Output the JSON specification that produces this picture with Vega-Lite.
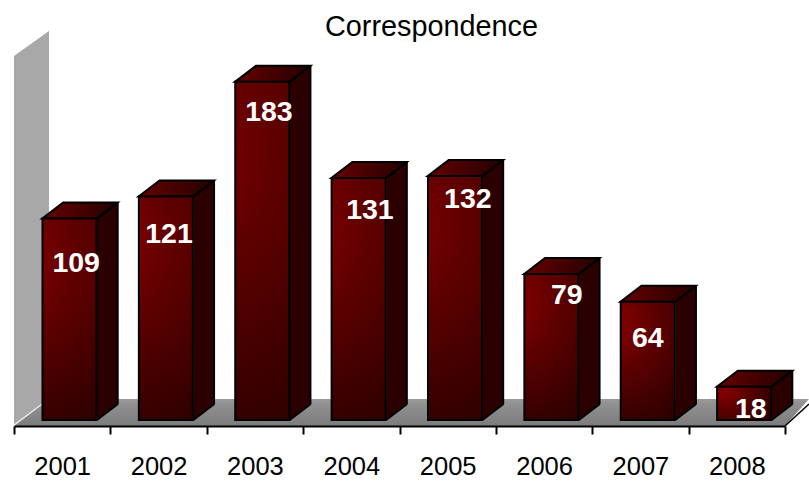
{
"$schema":"https://vega.github.io/schema/vega-lite/v6.json",
"width":771,"height":370,
"autosize":{"type":"none"},
"padding":{"left":14,"top":56,"right":24,"bottom":57},
"background":"white",
"config":{"view":{"stroke":null},"font":"Liberation Sans"},
"title":{"text":"Correspondence","font":"Liberation Sans","fontWeight":"normal","fontSize":28.8,"color":"#000000","anchor":"middle","dx":32,"offset":-11},
"data":{"values":[
{"year":"2001","value":109},{"year":"2002","value":121},{"year":"2003","value":183},{"year":"2004","value":131},
{"year":"2005","value":132},{"year":"2006","value":79},{"year":"2007","value":64},{"year":"2008","value":18}]},
"encoding":{
"x":{"field":"year","type":"ordinal","title":null,"scale":{"paddingInner":0,"paddingOuter":0},
"axis":{"tickBand":"extent","labelAngle":0,"labelFont":"Liberation Sans","labelFontSize":25.5,"labelColor":"#000","labelPadding":20,"tickSize":8,"tickWidth":2,"tickColor":"#000","domainColor":"#000","domainWidth":2,"grid":false,"zindex":1}},
"y":{"field":"value","type":"quantitative","stack":null,"axis":null,"scale":{"domain":[-3.25,197],"zero":false,"nice":false}}
},
"layer":[
{"transform":[{"filter":"datum.year=='2001'"}],"mark":{"type":"point","filled":true,"size":4,"opacity":1,"strokeWidth":0,
 "shape":"M-48.2 5L-48.2 -364L-13.2 -389L-13.2 -20Z","fill":"#a8a8a8"},"encoding":{"y":{"datum":0,"type":"quantitative"}}},
{"transform":[{"filter":"datum.year=='2001'"}],"mark":{"type":"point","filled":true,"size":4,"opacity":1,"strokeWidth":0,
 "shape":"M-48.2 6L-13.2 -21L746.8 -21L722.8 6Z",
 "fill":{"gradient":"linear","x1":0,"y1":0,"x2":0,"y2":1,"stops":[{"offset":0,"color":"#9a9a9a"},{"offset":0.2,"color":"#909090"},{"offset":1,"color":"#7c7c7c"}]}},"encoding":{"y":{"datum":0,"type":"quantitative"}}},
{"transform":[{"filter":"datum.year=='2001'"}],"mark":{"type":"point","filled":false,"size":4,"opacity":1,"strokeWidth":1.5,"stroke":"#e8e8e8",
 "shape":"M-48.2 5L-20 -16"},"encoding":{"y":{"datum":0,"type":"quantitative"}}},
{"transform":[{"filter":"datum.year=='2001'"}],"mark":{"type":"point","filled":false,"size":4,"opacity":1,"strokeWidth":1.5,"stroke":"#000",
 "shape":"M722.8 6L746.8 -16"},"encoding":{"y":{"datum":0,"type":"quantitative"}}},
{"mark":{"type":"bar","width":21,"xOffset":45.3,"yOffset":-16,"y2Offset":-16,"fill":"#2a0000","stroke":null},"encoding":{"y2":{"datum":0}}},
{"mark":{"type":"rule","xOffset":55.5,"yOffset":-16,"y2Offset":-16,"stroke":"#000","strokeWidth":2},"encoding":{"y2":{"datum":0}}},
{"mark":{"type":"point","filled":true,"size":4,"opacity":1,"strokeWidth":0,"xOffset":34.8,"fill":"#2a0000","shape":"M0 0L21 -16L0 -16Z"},"encoding":{"y":{"datum":0,"type":"quantitative"}}},
{"mark":{"type":"point","filled":false,"size":4,"opacity":1,"strokeWidth":2,"xOffset":34.8,"stroke":"#000","shape":"M0 0L21 -16"},"encoding":{"y":{"datum":0,"type":"quantitative"}}},
{"mark":{"type":"point","filled":true,"size":4,"opacity":1,"strokeWidth":2,"stroke":"#000","xOffset":-20,"shape":"M0 0L21 -16L75.5 -16L54.5 0Z",
 "fill":{"gradient":"linear","x1":0,"y1":0,"x2":1,"y2":0,"stops":[{"offset":0,"color":"#660000"},{"offset":1,"color":"#240000"}]}}},
{"mark":{"type":"point","filled":false,"size":4,"opacity":1,"strokeWidth":2,"stroke":"#000","xOffset":34.8,"shape":"M0 0L21 -16"}},
{"mark":{"type":"bar","width":54,"xOffset":7.3,"stroke":"#000","strokeWidth":2,
 "fill":{"gradient":"radial","x1":0.15,"y1":0.2,"r1":0,"x2":0.15,"y2":0.2,"r2":1,"stops":[{"offset":0,"color":"#800000"},{"offset":0.2,"color":"#780000"},{"offset":0.4,"color":"#5e0000"},{"offset":0.8,"color":"#380000"},{"offset":1,"color":"#2a0000"}]}},"encoding":{"y2":{"datum":0}}},
{"transform":[{"filter":"datum.year=='2001'"}],"mark":{"type":"text","font":"Liberation Sans","fontWeight":"bold","fontSize":28.5,"fill":"#fff","baseline":"middle","align":"center","dx":14,"dy":44},"encoding":{"text":{"field":"value"}}},
{"transform":[{"filter":"datum.year=='2002'"}],"mark":{"type":"text","font":"Liberation Sans","fontWeight":"bold","fontSize":28.5,"fill":"#fff","baseline":"middle","align":"center","dx":10.4,"dy":37.5},"encoding":{"text":{"field":"value"}}},
{"transform":[{"filter":"datum.year=='2003'"}],"mark":{"type":"text","font":"Liberation Sans","fontWeight":"bold","fontSize":28.5,"fill":"#fff","baseline":"middle","align":"center","dx":14,"dy":30},"encoding":{"text":{"field":"value"}}},
{"transform":[{"filter":"datum.year=='2004'"}],"mark":{"type":"text","font":"Liberation Sans","fontWeight":"bold","fontSize":28.5,"fill":"#fff","baseline":"middle","align":"center","dx":18.6,"dy":32},"encoding":{"text":{"field":"value"}}},
{"transform":[{"filter":"datum.year=='2005'"}],"mark":{"type":"text","font":"Liberation Sans","fontWeight":"bold","fontSize":28.5,"fill":"#fff","baseline":"middle","align":"center","dx":20.2,"dy":23},"encoding":{"text":{"field":"value"}}},
{"transform":[{"filter":"datum.year=='2006'"}],"mark":{"type":"text","font":"Liberation Sans","fontWeight":"bold","fontSize":28.5,"fill":"#fff","baseline":"middle","align":"center","dx":22.8,"dy":21},"encoding":{"text":{"field":"value"}}},
{"transform":[{"filter":"datum.year=='2007'"}],"mark":{"type":"text","font":"Liberation Sans","fontWeight":"bold","fontSize":28.5,"fill":"#fff","baseline":"middle","align":"center","dx":7.4,"dy":36},"encoding":{"text":{"field":"value"}}},
{"transform":[{"filter":"datum.year=='2008'"}],"mark":{"type":"text","font":"Liberation Sans","fontWeight":"bold","fontSize":28.5,"fill":"#fff","baseline":"middle","align":"center","dx":14,"dy":22},"encoding":{"text":{"field":"value"}}}
]
}
